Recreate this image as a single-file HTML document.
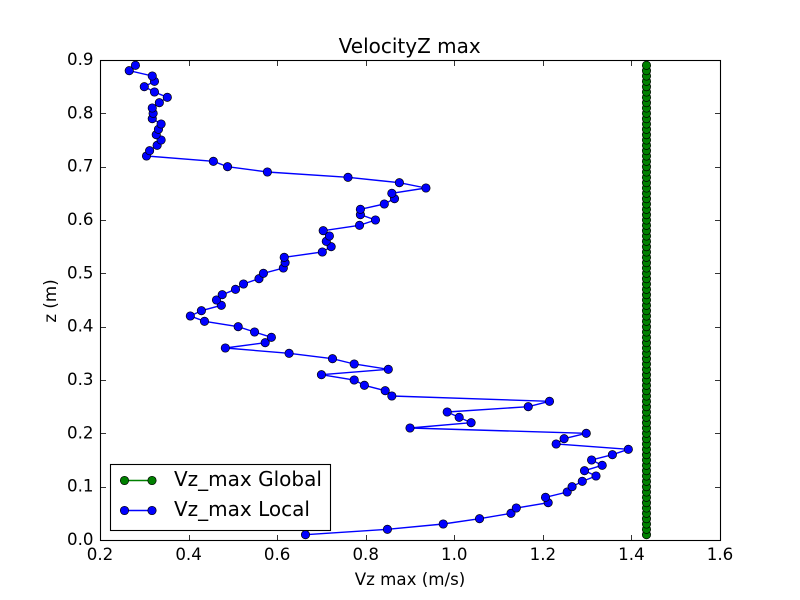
<!DOCTYPE html>
<html lang="en">
<head>
<meta charset="utf-8">
<title>VelocityZ max</title>
<style>
html,body{margin:0;padding:0;background:#fff;width:800px;height:600px;overflow:hidden}
svg{display:block}
text{font-family:"DejaVu Sans","Liberation Sans",sans-serif;fill:#000}
</style>
</head>
<body>
<svg id="chart" width="800" height="600" viewBox="0 0 800 600" xmlns="http://www.w3.org/2000/svg"></svg>
<script>
const zValues = [0.01,0.02,0.03,0.04,0.05,0.06,0.07,0.08,0.09,0.10,0.11,0.12,0.13,0.14,0.15,0.16,0.17,0.18,0.19,0.20,0.21,0.22,0.23,0.24,0.25,0.26,0.27,0.28,0.29,0.30,0.31,0.32,0.33,0.34,0.35,0.36,0.37,0.38,0.39,0.40,0.41,0.42,0.43,0.44,0.45,0.46,0.47,0.48,0.49,0.50,0.51,0.52,0.53,0.54,0.55,0.56,0.57,0.58,0.59,0.60,0.61,0.62,0.63,0.64,0.65,0.66,0.67,0.68,0.69,0.70,0.71,0.72,0.73,0.74,0.75,0.76,0.77,0.78,0.79,0.80,0.81,0.82,0.83,0.84,0.85,0.86,0.87,0.88,0.89];
const vzGlobal = [1.434,1.434,1.434,1.434,1.434,1.434,1.434,1.434,1.434,1.434,1.434,1.434,1.434,1.434,1.434,1.434,1.434,1.434,1.434,1.434,1.434,1.434,1.434,1.434,1.434,1.434,1.434,1.434,1.434,1.434,1.434,1.434,1.434,1.434,1.434,1.434,1.434,1.434,1.434,1.434,1.434,1.434,1.434,1.434,1.434,1.434,1.434,1.434,1.434,1.434,1.434,1.434,1.434,1.434,1.434,1.434,1.434,1.434,1.434,1.434,1.434,1.434,1.434,1.434,1.434,1.434,1.434,1.434,1.434,1.434,1.434,1.434,1.434,1.434,1.434,1.434,1.434,1.434,1.434,1.434,1.434,1.434,1.434,1.434,1.434,1.434,1.434,1.434,1.434];
const vzLocal = [0.664,0.849,0.975,1.057,1.128,1.140,1.212,1.206,1.255,1.266,1.289,1.320,1.294,1.334,1.310,1.357,1.393,1.230,1.248,1.298,0.900,1.038,1.011,0.984,1.167,1.215,0.859,0.844,0.797,0.774,0.700,0.851,0.774,0.725,0.627,0.483,0.573,0.587,0.549,0.512,0.436,0.404,0.429,0.474,0.463,0.476,0.506,0.524,0.559,0.569,0.614,0.618,0.616,0.702,0.722,0.711,0.718,0.704,0.786,0.822,0.788,0.788,0.842,0.865,0.859,0.936,0.876,0.760,0.578,0.488,0.456,0.305,0.312,0.329,0.338,0.327,0.332,0.338,0.318,0.320,0.318,0.334,0.352,0.323,0.300,0.323,0.318,0.266,0.280];
const xTickValues = [0.2,0.4,0.6,0.8,1.0,1.2,1.4,1.6];
const yTickValues = [0.0,0.1,0.2,0.3,0.4,0.5,0.6,0.7,0.8,0.9];
const xDomain = [0.2,1.6];
const yDomain = [0,0.9];

const NS = 'http://www.w3.org/2000/svg';
const svg = document.getElementById('chart');
const plot = {left:100,right:720,top:60,bottom:540};
function xScale(v){return plot.left + (v - xDomain[0]) / (xDomain[1] - xDomain[0]) * (plot.right - plot.left);}
function yScale(v){return plot.bottom - (v - yDomain[0]) / (yDomain[1] - yDomain[0]) * (plot.bottom - plot.top);}
function make(tag, attrs, parent, text){
  const el = document.createElementNS(NS, tag);
  for (const k in attrs) el.setAttribute(k, attrs[k]);
  if (text !== undefined) el.textContent = text;
  (parent || svg).appendChild(el);
  return el;
}

const bg = make('rect',{x:100.5,y:60.5,width:620,height:480,fill:'#fff'});



function drawSeries(xs, ys, color, seriesName){
  const group = make('g',{});
  
  
  const pts = xs.map((v,i)=>xScale(v).toFixed(2)+','+yScale(ys[i]).toFixed(2)).join(' ');
  const line = make('polyline',{points:pts,fill:'none',stroke:color,'stroke-width':1.4},group);
  
  
  xs.forEach((v,i)=>{
    const dot = make('circle',{cx:xScale(v).toFixed(2),cy:yScale(ys[i]).toFixed(2),r:4.2,fill:color,stroke:'#000','stroke-width':0.7},group);
    
    
  });
}
drawSeries(vzGlobal, zValues, '#008000', 'vz-max-global-series');
drawSeries(vzLocal, zValues, '#0000ff', 'vz-max-local-series');

const xAxis = make('g',{});


xTickValues.forEach(v=>{
  const x = Math.round(xScale(v)) + 0.5;
  const t1 = make('line',{x1:x,x2:x,y1:540.5,y2:535,stroke:'#000','stroke-width':0.8},xAxis);
  
  
  const t2 = make('line',{x1:x,x2:x,y1:60.5,y2:66,stroke:'#000','stroke-width':0.8},xAxis);
  
  
  const lab = make('text',{x:xScale(v),y:560,'text-anchor':'middle','font-size':16.67},xAxis,v.toFixed(1));
  
  
});

const yAxis = make('g',{});


yTickValues.forEach(v=>{
  const y = Math.round(yScale(v)) + 0.5;
  const t1 = make('line',{x1:100.5,x2:106,y1:y,y2:y,stroke:'#000','stroke-width':0.8},yAxis);
  
  
  const t2 = make('line',{x1:720.5,x2:715,y1:y,y2:y,stroke:'#000','stroke-width':0.8},yAxis);
  
  
  const lab = make('text',{x:93.5,y:yScale(v)+5,'text-anchor':'end','font-size':16.67},yAxis,v.toFixed(1));
  
  
});

const frame = make('rect',{x:100.5,y:60.5,width:620,height:480,fill:'none',stroke:'#000','stroke-width':1.1});



const title = make('text',{x:409.7,y:53,'text-anchor':'middle','font-size':20},svg,'VelocityZ max');


const xTitle = make('text',{x:410,y:585,'text-anchor':'middle','font-size':16.67},svg,'Vz max (m/s)');


const yTitle = make('text',{x:0,y:0,'text-anchor':'middle','font-size':16.67,transform:'translate(56,301) rotate(-90)'},svg,'z (m)');



const legend = make('g',{});


const legendBox = make('rect',{x:110.5,y:464.5,width:220,height:66,fill:'#fff',stroke:'#000','stroke-width':1.1},legend);


function legendEntry(label, color, y, entryName){
  const g = make('g',{},legend);
  
  
  make('line',{x1:124.5,x2:152,y1:y,y2:y,stroke:color,'stroke-width':1.4},g);
  make('circle',{cx:124.5,cy:y,r:4.2,fill:color,stroke:'#000','stroke-width':0.7},g);
  make('circle',{cx:152,cy:y,r:4.2,fill:color,stroke:'#000','stroke-width':0.7},g);
  make('text',{x:174,y:y+5.5,'font-size':20},g,label);
}
legendEntry('Vz_max Global', '#008000', 480.5, 'legend-entry-global');
legendEntry('Vz_max Local', '#0000ff', 510.5, 'legend-entry-local');
</script>
</body>
</html>
